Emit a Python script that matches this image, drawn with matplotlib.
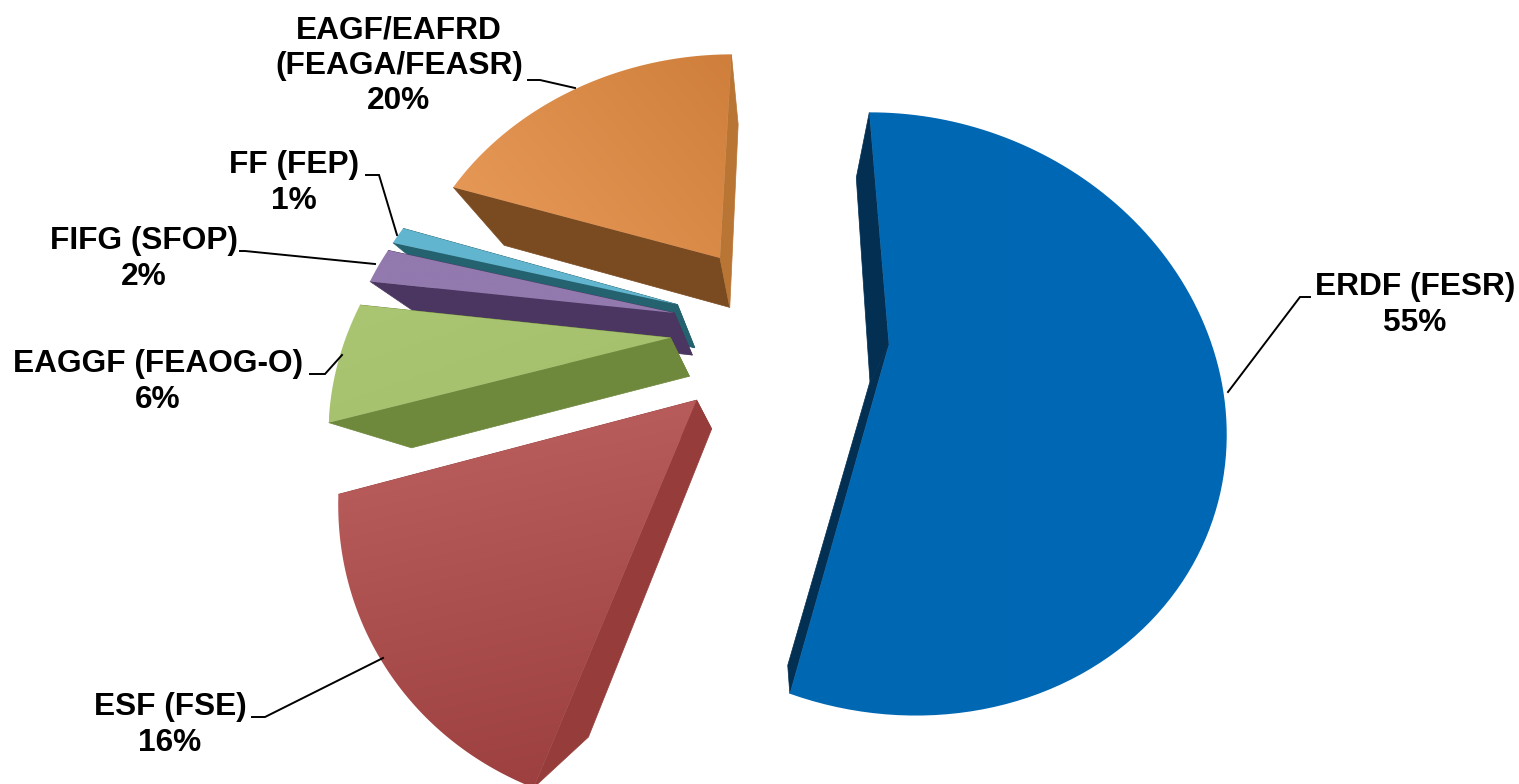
import numpy as np
import matplotlib
matplotlib.use('Agg')
import matplotlib.pyplot as plt
from matplotlib.patches import Polygon
from matplotlib.colors import to_rgb

plt.rcParams['font.family'] = ['Liberation Sans', 'DejaVu Sans']

# shares of each fund, clockwise from the top of the pie
funds = ['ERDF (FESR)', 'ESF (FSE)', 'EAGGF (FEAOG-O)', 'FIFG (SFOP)', 'FF (FEP)', 'EAGF/EAFRD\n(FEAGA/FEASR)']
shares = [55, 15.6, 6.4, 2, 1, 20]
percent_labels = ['55%', '16%', '6%', '2%', '1%', '20%']

top_light = ['#0067b3', '#bd6261', '#aac672', '#9279ae', '#62b5cf', '#e99b5a']
top_dark = ['#0068b5', '#9a3d3c', '#a3bf6c', '#9279ae', '#62b5cf', '#cf7f3b']
wall_a = ['#032f52', '#963d3b', '#6e883c', '#4a3660', '#24626f', '#7a4a20']
wall_b = ['#032f52', '#963d3b', '#6e883c', '#4a3660', '#24626f', '#b87534']
gradient_dir = [(1, 0), (0.2, 1), (0.5, 0.5), (1, 0), (1, 0), (1, -0.6)]

# camera for the tilted pie, worked out against the picture
H = [300.25746, 217.62, 780.04272, 24.51424, -202.28843, 329.89872, -0.02311, 0.22751]
explode = 0.34
start_angle = -7.0
vanish = (780, 560)
depth = 0.208

# label centres and leader lines in picture pixels
label_xy = [(1415, 305), (170, 725), (158, 382), (144, 259), (294, 183), (399, 66)]
leaders = [
    [(1228, 392), (1300, 297), (1310, 297)],
    [(383, 658), (265, 717), (252, 717)],
    [(342, 355), (325, 374), (310, 374)],
    [(375, 264), (245, 251), (240, 251)],
    [(397, 235), (379, 175), (366, 175)],
    [(575, 88), (540, 80), (528, 80)],
]


def project(u, v):
    w = H[6] * u + H[7] * v + 1
    return (H[0] * u + H[1] * v + H[2]) / w, (H[3] * u + H[4] * v + H[5]) / w, w


def sink(x, y, w):
    # same point on the underside of the slice
    return (x * w + depth * vanish[0]) / (w + depth), (y * w + depth * vanish[1]) / (w + depth)


def draw_slice(ax, i, t1, t2, z):
    mid = np.radians((t1 + t2) / 2)
    ou, ov = explode * np.sin(mid), explode * np.cos(mid)
    t = np.radians(np.linspace(t1, t2, 120))
    x, y, w = project(np.r_[ou, ou + np.sin(t)], np.r_[ov, ov + np.cos(t)])
    bx, by = sink(x, y, w)

    for j, col in ((1, wall_a[i]), (-1, wall_b[i])):
        quad = [(x[0], y[0]), (x[j], y[j]), (bx[j], by[j]), (bx[0], by[0])]
        ax.add_patch(Polygon(quad, facecolor=col, edgecolor=col, lw=0.5, zorder=z))

    # top face with a soft gradient, clipped to the slice outline
    outline = Polygon(np.c_[x, y], facecolor='none', edgecolor='none', transform=ax.transData)
    ax.add_patch(outline)
    x0, x1, y0, y1 = x.min(), x.max(), y.min(), y.max()
    gx, gy = np.meshgrid(np.linspace(0, 1, 80), np.linspace(0, 1, 80))
    dx, dy = gradient_dir[i]
    g = dx * gx + dy * gy
    g = (g - g.min()) / (g.max() - g.min())
    c0, c1 = np.array(to_rgb(top_light[i])), np.array(to_rgb(top_dark[i]))
    rgb = c0 + g[..., None] * (c1 - c0)
    im = ax.imshow(rgb, extent=(x0, x1, y1, y0), origin='upper', aspect='auto', interpolation='bilinear', zorder=z + 0.5)
    im.set_clip_path(outline)


fig = plt.figure(figsize=(15.19, 7.84), dpi=100)
ax = fig.add_axes([0, 0, 1, 1])

angles = start_angle + np.r_[0, np.cumsum(shares)] * 3.6
for z, i in enumerate([5, 4, 3, 2, 1, 0]):
    draw_slice(ax, i, angles[i], angles[i + 1], z + 1)

for i in range(len(funds)):
    pts = np.array(leaders[i])
    ax.plot(pts[:, 0], pts[:, 1], color='black', lw=1.4, solid_joinstyle='miter', zorder=10)
    ax.text(label_xy[i][0], label_xy[i][1], funds[i] + '\n' + percent_labels[i], ha='center', va='center',
            fontsize=22.8, fontweight='bold', linespacing=1.22, color='black', zorder=11)

ax.set_xlim(0, 1519)
ax.set_ylim(784, 0)
ax.axis('off')
fig.savefig('out.png', dpi=100)
